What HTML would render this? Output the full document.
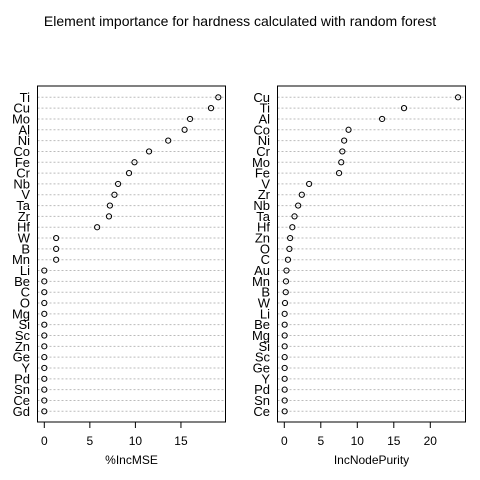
<!DOCTYPE html>
<html><head><meta charset="utf-8"><style>
html,body{margin:0;padding:0;background:#fff;}
svg{display:block;font-family:"Liberation Sans",Arial,sans-serif;}
</style></head><body>
<svg id="chart" width="480" height="480" viewBox="0 0 480 480">
<text x="240" y="26" text-anchor="middle" font-size="14">Element importance for hardness calculated with random forest</text>
<g id="left"></g>
<g id="right"></g>
</svg>
<script>
const leftCats = ["Ti","Cu","Mo","Al","Ni","Co","Fe","Cr","Nb","V","Ta","Zr","Hf","W","B","Mn","Li","Be","C","O","Mg","Si","Sc","Zn","Ge","Y","Pd","Sn","Ce","Gd"];
const leftVals = [19.1,18.3,16.0,15.4,13.6,11.5,9.9,9.3,8.1,7.7,7.2,7.1,5.8,1.3,1.3,1.3,0,0,0,0,0,0,0,0,0,0,0,0,0,0];
const leftTicks = [0,5,10,15];
const rightCats = ["Cu","Ti","Al","Co","Ni","Cr","Mo","Fe","V","Zr","Nb","Ta","Hf","Zn","O","C","Au","Mn","B","W","Li","Be","Mg","Si","Sc","Ge","Y","Pd","Sn","Ce"];
const rightVals = [23.8,16.4,13.4,8.8,8.2,7.95,7.8,7.5,3.4,2.4,1.9,1.4,1.1,0.8,0.7,0.5,0.3,0.23,0.2,0.1,0.05,0.05,0.05,0.05,0.05,0.05,0.05,0.05,0.05,0.05];
const rightTicks = [0,5,10,15,20];
const NS="http://www.w3.org/2000/svg";
function mk(parent,tag,attrs){const e=document.createElementNS(NS,tag);for(const k in attrs)e.setAttribute(k,attrs[k]);parent.appendChild(e);return e;}
function panel(g,cats,vals,ticks,cfg){
  const x=v=>cfg.x0+(v)*cfg.k;
  const yTop=97.3,yBot=411.3,step=(yBot-yTop)/(cats.length-1);
  const y=i=>yTop+i*step;
  cats.forEach((c,i)=>{
    const ln=mk(g,'line',{x1:cfg.bl,x2:cfg.br,y1:y(i),y2:y(i),stroke:'#bbb','stroke-dasharray':'2,2','stroke-width':1});
    
    
    const t=mk(g,'text',{x:cfg.lx,y:y(i)+4.5,'text-anchor':'end','font-size':13});
    t.textContent=c;
    
    
    const p=mk(g,'circle',{cx:x(vals[i]),cy:y(i),r:2.6,fill:'none',stroke:'#000','stroke-width':1});
    
    
  });
  const box=mk(g,'rect',{x:cfg.bl,y:86,width:cfg.br-cfg.bl,height:336,fill:'none',stroke:'#000','stroke-width':1});
  
  
  const ax=mk(g,'line',{x1:x(ticks[0]),x2:x(ticks[ticks.length-1]),y1:422,y2:422,stroke:'#000'});
  
  
  ticks.forEach(v=>{
    const tl=mk(g,'line',{x1:x(v),x2:x(v),y1:422,y2:428,stroke:'#000'});
    
    
    const tt=mk(g,'text',{x:x(v),y:445,'text-anchor':'middle','font-size':12});
    tt.textContent=v;
    
    
  });
  const xl=mk(g,'text',{x:(cfg.bl+cfg.br)/2,y:464,'text-anchor':'middle','font-size':12});
  xl.textContent=cfg.title;
  
  
}
panel(document.getElementById('left'),leftCats,leftVals,leftTicks,{x0:44.3,k:9.11,bl:37.5,br:225.5,lx:30,title:'%IncMSE'});
panel(document.getElementById('right'),rightCats,rightVals,rightTicks,{x0:284.3,k:7.3,bl:277.5,br:465.5,lx:270,title:'IncNodePurity'});
</script>
</body></html>
